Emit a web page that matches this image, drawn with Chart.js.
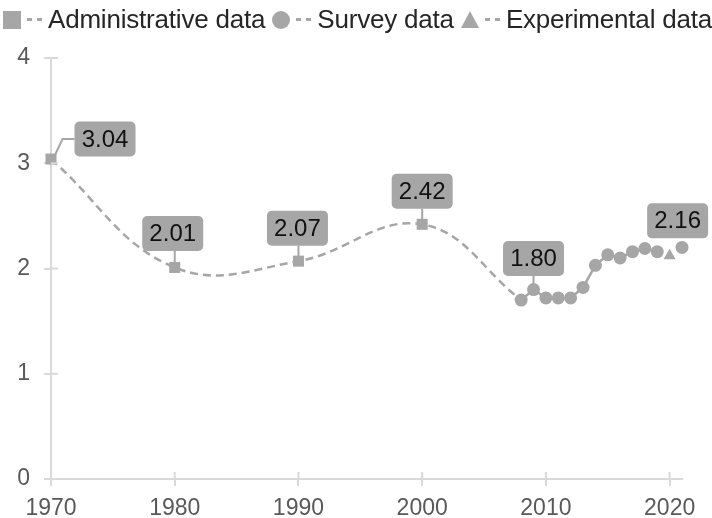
<!DOCTYPE html>
<html>
<head>
<meta charset="utf-8">
<script src="https://cdn.jsdelivr.net/npm/chart.js@4/dist/chart.umd.min.js"></script>
<style>
  body { margin: 0; background: #fff; font-family: "Liberation Sans", Arial, sans-serif; }
  #wrap { position: relative; width: 712px; height: 518px; }
  #legend { position: absolute; left: 3px; top: 4px; display: flex; align-items: center; font-size: 26px; color: #262626; white-space: nowrap; letter-spacing: -0.2px; }
  .mk { display: inline-block; background: #a6a6a6; }
  .sq { width: 18px; height: 18px; }
  .ci { width: 18px; height: 18px; border-radius: 50%; }
  .tr { width: 0; height: 0; background: none; border-left: 9px solid transparent; border-right: 9px solid transparent; border-bottom: 17px solid #a6a6a6; }
  .ds { display: inline-block; width: 15px; height: 3px; margin: 0 6px 0 6px; background: repeating-linear-gradient(to right, #a6a6a6 0 5px, transparent 5px 10px); }
  .tx { margin-right: 7px; }
</style>
</head>
<body>
<div id="wrap">
  <canvas id="chart" width="712" height="518"></canvas>
  <div id="legend"></div>
</div>
<script>
// --- data ---
const adminYears = [1970, 1980, 1990, 2000];
const adminValues = [3.04, 2.01, 2.07, 2.42];

const surveyYears = [2008, 2009, 2010, 2011, 2012, 2013, 2014, 2015, 2016, 2017, 2018, 2019, 2020, 2021];
const surveyValues = [1.70, 1.80, 1.72, 1.72, 1.72, 1.82, 2.03, 2.13, 2.10, 2.16, 2.19, 2.16, null, 2.20];

const experimentalYears = [2020];
const experimentalValues = [2.12];

const xTicks = [1970, 1980, 1990, 2000, 2010, 2020];
const yTicks = [0, 1, 2, 3, 4];

const seriesNames = ["Administrative data", "Survey data", "Experimental data"];

// which points carry a value box, and the text in it
const labelSeries = [0, 0, 0, 0, 1, 2];
const labelYears = [1970, 1980, 1990, 2000, 2009, 2020];
const labelTexts = ["3.04", "2.01", "2.07", "2.42", "1.80", "2.16"];

const grey = "#a6a6a6";
const toXY = (xs, ys) => xs.map((x, i) => ({ x, y: ys[i] }));

// dashed trend: admin points plus the first survey point
const trendPoints = toXY(adminYears, adminValues).concat([{ x: surveyYears[0], y: surveyValues[0] }]);

// legend (html)
const legend = document.getElementById("legend");
legend.innerHTML = ["sq", "ci", "tr"].map((cls, i) => `
  <span class="mk ${cls}"></span><span class="ds"></span><span class="tx">${seriesNames[i]}</span>`).join("");

// ticks crossing the axis lines
const crossTicks = {
  id: "crossTicks",
  afterDraw(chart) {
    const { ctx, chartArea, scales } = chart;
    ctx.save();
    ctx.strokeStyle = "#d9d9d9";
    ctx.lineWidth = 2;
    ctx.beginPath();
    xTicks.forEach(v => {
      const x = scales.x.getPixelForValue(v);
      ctx.moveTo(x, chartArea.bottom);
      ctx.lineTo(x, chartArea.bottom - 7);
    });
    yTicks.forEach(v => {
      const y = scales.y.getPixelForValue(v);
      ctx.moveTo(chartArea.left, y);
      ctx.lineTo(chartArea.left + 7, y);
    });
    ctx.stroke();
    ctx.restore();
  }
};

// value boxes with leader lines
const valueBoxes = {
  id: "valueBoxes",
  afterDatasetsDraw(chart, args, opts) {
    const { ctx } = chart;
    const dsIndex = [1, 2, 3]; // admin, survey, experimental datasets
    ctx.save();
    ctx.font = opts.font;
    labelTexts.forEach((text, i) => {
      const ds = chart.data.datasets[dsIndex[labelSeries[i]]];
      const idx = ds.data.findIndex(p => p.x === labelYears[i]);
      const el = chart.getDatasetMeta(dsIndex[labelSeries[i]]).data[idx];
      const off = opts.offsets[i];
      const cx = el.x + off[0], cy = el.y + off[1];
      const w = opts.width, h = opts.height;
      ctx.strokeStyle = grey;
      ctx.lineWidth = 2;
      ctx.beginPath();
      if (off[2] === "elbow") {
        ctx.moveTo(el.x + 4, el.y - 4);
        ctx.lineTo(cx - w / 2 - 12, cy);
        ctx.lineTo(cx - w / 2, cy);
      } else if (off[2] === "down") {
        ctx.moveTo(el.x, el.y);
        ctx.lineTo(el.x, cy + h / 2);
      }
      ctx.stroke();
      ctx.fillStyle = grey;
      ctx.beginPath();
      ctx.roundRect(cx - w / 2, cy - h / 2, w, h, 5);
      ctx.fill();
      ctx.fillStyle = "#111";
      ctx.textAlign = "center";
      ctx.textBaseline = "middle";
      ctx.fillText(text, cx, cy + 1);
    });
    ctx.restore();
  }
};

const tickFont = { size: 23, family: "'Liberation Sans', Arial" };

new Chart(document.getElementById("chart"), {
  type: "line",
  data: {
    datasets: [
      {
        label: "trend",
        data: trendPoints,
        borderColor: grey,
        borderWidth: 2.5,
        borderDash: [8, 5],
        tension: 0.4,
        pointRadius: 0,
        clip: false,
        order: 3
      },
      {
        label: seriesNames[0],
        data: toXY(adminYears, adminValues),
        showLine: false,
        pointStyle: "rect",
        pointRadius: 7.8,
        backgroundColor: grey,
        borderWidth: 0,
        clip: false,
        order: 2
      },
      {
        label: seriesNames[1],
        data: toXY(surveyYears, surveyValues),
        borderColor: grey,
        borderWidth: 2.5,
        tension: 0,
        spanGaps: false,
        pointStyle: "circle",
        pointRadius: 6.5,
        backgroundColor: grey,
        pointBorderWidth: 0,
        clip: false,
        order: 1
      },
      {
        label: seriesNames[2],
        data: toXY(experimentalYears, experimentalValues),
        showLine: false,
        pointStyle: "triangle",
        pointRadius: 7,
        backgroundColor: grey,
        borderWidth: 0,
        clip: false,
        order: 1
      }
    ]
  },
  options: {
    responsive: false,
    animation: false,
    layout: { padding: { top: 58, right: 30, left: 0, bottom: 0 } },
    plugins: {
      legend: { display: false },
      tooltip: { enabled: false },
      valueBoxes: {
        font: "24px 'Liberation Sans', Arial, sans-serif",
        width: 61,
        height: 35,
        offsets: [[54, -20, "elbow"], [-2, -34, "down"], [-1, -33, "down"], [0, -33, "down"], [0, -31, "down"], [8, -35, "none"]]
      }
    },
    scales: {
      x: {
        type: "linear",
        min: 1970,
        max: 2021,
        afterBuildTicks: s => { s.ticks = xTicks.map(v => ({ value: v })); },
        afterFit: s => { s.height = 39; },
        grid: { drawOnChartArea: false, color: "#d9d9d9", lineWidth: 2, tickLength: 7 },
        border: { color: "#d9d9d9", width: 2 },
        ticks: { color: "#595959", font: tickFont, padding: 9, maxRotation: 0, callback: v => String(v) }
      },
      y: {
        min: 0,
        max: 4,
        afterBuildTicks: s => { s.ticks = yTicks.map(v => ({ value: v })); },
        afterFit: s => { s.width = 51; },
        grid: { drawOnChartArea: false, color: "#d9d9d9", lineWidth: 2, tickLength: 7 },
        border: { color: "#d9d9d9", width: 2 },
        ticks: { color: "#595959", font: tickFont, padding: 14 }
      }
    }
  },
  plugins: [crossTicks, valueBoxes]
});
</script>
</body>
</html>
